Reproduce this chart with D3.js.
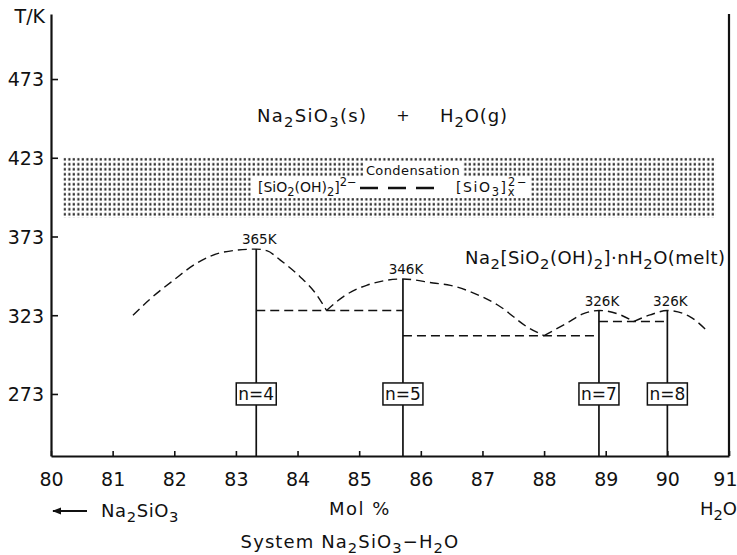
<!DOCTYPE html>
<html><head><meta charset="utf-8">
<script src="https://cdn.jsdelivr.net/npm/d3@7"></script>
<style>
body{margin:0;background:#fff}
svg{display:block}
text{font-family:'DejaVu Sans','Liberation Sans',sans-serif;fill:#111}
</style>
</head><body>
<svg id="c" width="737" height="555"></svg>
<script>
// ---- data ----
const xTicks = [80,81,82,83,84,85,86,87,88,89,90,91];
const yTicks = [273,323,373,423,473];
const hydrateN = [4,5,7,8];
const hydrateMol = [83.33,85.71,88.89,90.0];
const meltT = [365,346,326,326];
const meltLabel = ["365K","346K","326K","326K"];
// liquidus branches (mol % H2O, T/K)
const branch4Mol = [81.33,81.6,81.98,82.36,82.79,83.33,83.5,83.72,84.04,84.31,84.47];
const branch4T   = [323,333,345,356,363,365,364,358,347.5,336,326];
const branch5Mol = [84.47,84.75,85.12,85.71,86.2,86.48,86.8,87.29,87.72,88.0];
const branch5T   = [326,335,342,346,343.5,342,338,328.4,315.7,310];
const branch7Mol = [88.0,88.37,88.64,88.89,89.24,89.45];
const branch7T   = [310,318,324,326,323.2,319];
const branch8Mol = [89.45,89.72,90.0,90.37,90.62];
const branch8T   = [319,323.2,326,322,314];
// eutectic tie lines
const tieFrom = [83.33,85.71,88.89];
const tieTo   = [85.71,88.89,90.0];
const tieT    = [326,310,319];
// condensation band
const bandMol = [80.2,90.78];
const bandT   = [385,423];

// ---- scales ----
const svg = d3.select('#c');
const x = d3.scaleLinear().domain([80,91]).range([51,729]);
const y = d3.scaleLinear().domain([233.6,514.3]).range([456,14]);
const ink = '#111';

function rich(g, px, py, segs, size, anchor, ls){
  const t = g.append('text').attr('x',px).attr('y',py).attr('font-size',size)
    .attr('text-anchor',anchor||'start');
  if (ls) t.attr('letter-spacing', ls);
  let shift = 0;
  segs.forEach(s=>{
    const str = s[0], type = s[1]||'', dx = s[2]||0;
    const target = type==='sub' ? 0.3*size : type==='sup' ? -0.42*size : 0;
    const ts = t.append('tspan').text(str);
    if (target-shift !== 0) ts.attr('dy', target-shift);
    if (dx) ts.attr('dx', dx);
    if (type) ts.attr('font-size', size*0.82);
    shift = target;
  });
  return t;
}

// ---- pattern ----
const defs = svg.append('defs');
const pat = defs.append('pattern').attr('id','dots').attr('patternUnits','userSpaceOnUse')
  .attr('width',4.5).attr('height',5).attr('x',x(bandMol[0])).attr('y',y(bandT[1]));
pat.append('rect').attr('x',0.5).attr('y',0.3).attr('width',2).attr('height',2.4).attr('fill','#111');

// band
svg.append('rect').attr('x',x(bandMol[0])).attr('y',y(bandT[1]))
  .attr('width',x(bandMol[1])-x(bandMol[0])).attr('height',y(bandT[0])-y(bandT[1]))
  .attr('fill','url(#dots)');
svg.append('rect').attr('x',364).attr('y',162).attr('width',98).attr('height',15).attr('fill','#fff');
svg.append('rect').attr('x',252).attr('y',177).attr('width',278).attr('height',21).attr('fill','#fff');
svg.append('text').attr('x',413).attr('y',175).attr('text-anchor','middle').attr('font-size',13)
  .attr('letter-spacing',0.4).text('Condensation');
rich(svg,258,192,[['[SiO'],['2','sub'],['(OH)'],['2','sub'],[']'],['2−','sup']],14,'start',0);
svg.append('line').attr('x1',360).attr('x2',444).attr('y1',188).attr('y2',188)
  .attr('stroke',ink).attr('stroke-width',2.4).attr('stroke-dasharray','18,10');
rich(svg,456,192,[['[SiO'],['3','sub'],[']'],['x','sub'],['2−','sup',-8]],14,'start',1.6);

// ---- axes ----
const gx = svg.append('g').attr('transform',`translate(0,${y(233.6)})`)
  .call(d3.axisBottom(x).tickValues(xTicks).tickSize(-5).tickPadding(17).tickSizeOuter(0).tickFormat(d3.format('d')));
const gy = svg.append('g').attr('transform',`translate(${x(80)},0)`)
  .call(d3.axisLeft(y).tickValues(yTicks).tickSize(-7).tickPadding(7).tickSizeOuter(0).tickFormat(d3.format('d')));
[gx,gy].forEach(g=>{
  g.select('.domain').attr('stroke',ink).attr('stroke-width',2.2);
  g.selectAll('.tick line').attr('stroke',ink).attr('stroke-width',1.6);
  g.selectAll('.tick text').attr('font-size',19).attr('fill',ink).attr('font-family',null);
});
gy.selectAll('.tick text').attr('dy','0.36em');
gx.selectAll('.tick text').filter(d=>d===91).attr('text-anchor','end').attr('dx',8);
svg.append('line').attr('x1',x(91)).attr('x2',x(91)).attr('y1',y(514.3)).attr('y2',y(233.6))
  .attr('stroke',ink).attr('stroke-width',2.2);
svg.append('text').attr('x',45).attr('y',23).attr('text-anchor','end').attr('font-size',19).text('T/K');

// ---- liquidus curves ----
const line = d3.line().x(d=>x(d[0])).y(d=>y(d[1])).curve(d3.curveMonotoneX);
[[branch4Mol,branch4T],[branch5Mol,branch5T],[branch7Mol,branch7T],[branch8Mol,branch8T]].forEach(([m,t])=>{
  svg.append('path').attr('d',line(m.map((v,i)=>[v,t[i]])))
    .attr('fill','none').attr('stroke',ink).attr('stroke-width',1.4).attr('stroke-dasharray','9,5');
});
tieT.forEach((t,i)=>{
  svg.append('line').attr('x1',x(tieFrom[i])).attr('x2',x(tieTo[i])).attr('y1',y(t)).attr('y2',y(t))
    .attr('stroke',ink).attr('stroke-width',1.4).attr('stroke-dasharray','9,5');
});

// ---- hydrate lines, labels, boxes ----
hydrateMol.forEach((m,i)=>{
  svg.append('line').attr('x1',x(m)).attr('x2',x(m)).attr('y1',y(meltT[i])).attr('y2',y(233.6))
    .attr('stroke',ink).attr('stroke-width',1.7);
  svg.append('text').attr('x',x(m)+3).attr('y',y(meltT[i])-5).attr('text-anchor','middle')
    .attr('font-size',13.5).text(meltLabel[i]);
  svg.append('rect').attr('x',x(m)-20).attr('y',y(273)-11).attr('width',40).attr('height',22)
    .attr('fill','#fff').attr('stroke',ink).attr('stroke-width',1.5);
  svg.append('text').attr('x',x(m)).attr('y',y(273)+6.5).attr('text-anchor','middle')
    .attr('font-size',17).text('n=' + hydrateN[i]);
});

// ---- phase labels ----
rich(svg,257,122,[['Na'],['2','sub'],['SiO'],['3','sub'],['(s)']],18,'start',1.3);
svg.append('text').attr('x',403).attr('y',121).attr('text-anchor','middle').attr('font-size',16).text('+');
rich(svg,440,122,[['H'],['2','sub'],['O(g)']],18,'start',0.9);
rich(svg,465,264,[['Na'],['2','sub'],['[SiO'],['2','sub'],['(OH)'],['2','sub'],[']·nH'],['2','sub'],['O(melt)']],18,'start',0.5);

// ---- bottom labels ----
defs.append('marker').attr('id','ah').attr('viewBox','0 0 10 10').attr('refX',9).attr('refY',5)
  .attr('markerWidth',5).attr('markerHeight',5).attr('orient','auto')
  .append('path').attr('d','M0,1 L10,5 L0,9 Z').attr('fill',ink);
svg.append('line').attr('x1',87).attr('x2',53).attr('y1',511).attr('y2',511)
  .attr('stroke',ink).attr('stroke-width',1.8).attr('marker-end','url(#ah)');
rich(svg,101,517,[['Na'],['2','sub'],['SiO'],['3','sub']],18,'start',0.6);
svg.append('text').attr('x',360).attr('y',515).attr('text-anchor','middle').attr('font-size',18)
  .attr('letter-spacing',1.5).text('Mol %');
rich(svg,737,515,[['H'],['2','sub'],['O']],18,'end');
rich(svg,350,548,[['System Na'],['2','sub'],['SiO'],['3','sub'],['−H'],['2','sub'],['O']],18,'middle',1.1);
</script>
</body></html>
